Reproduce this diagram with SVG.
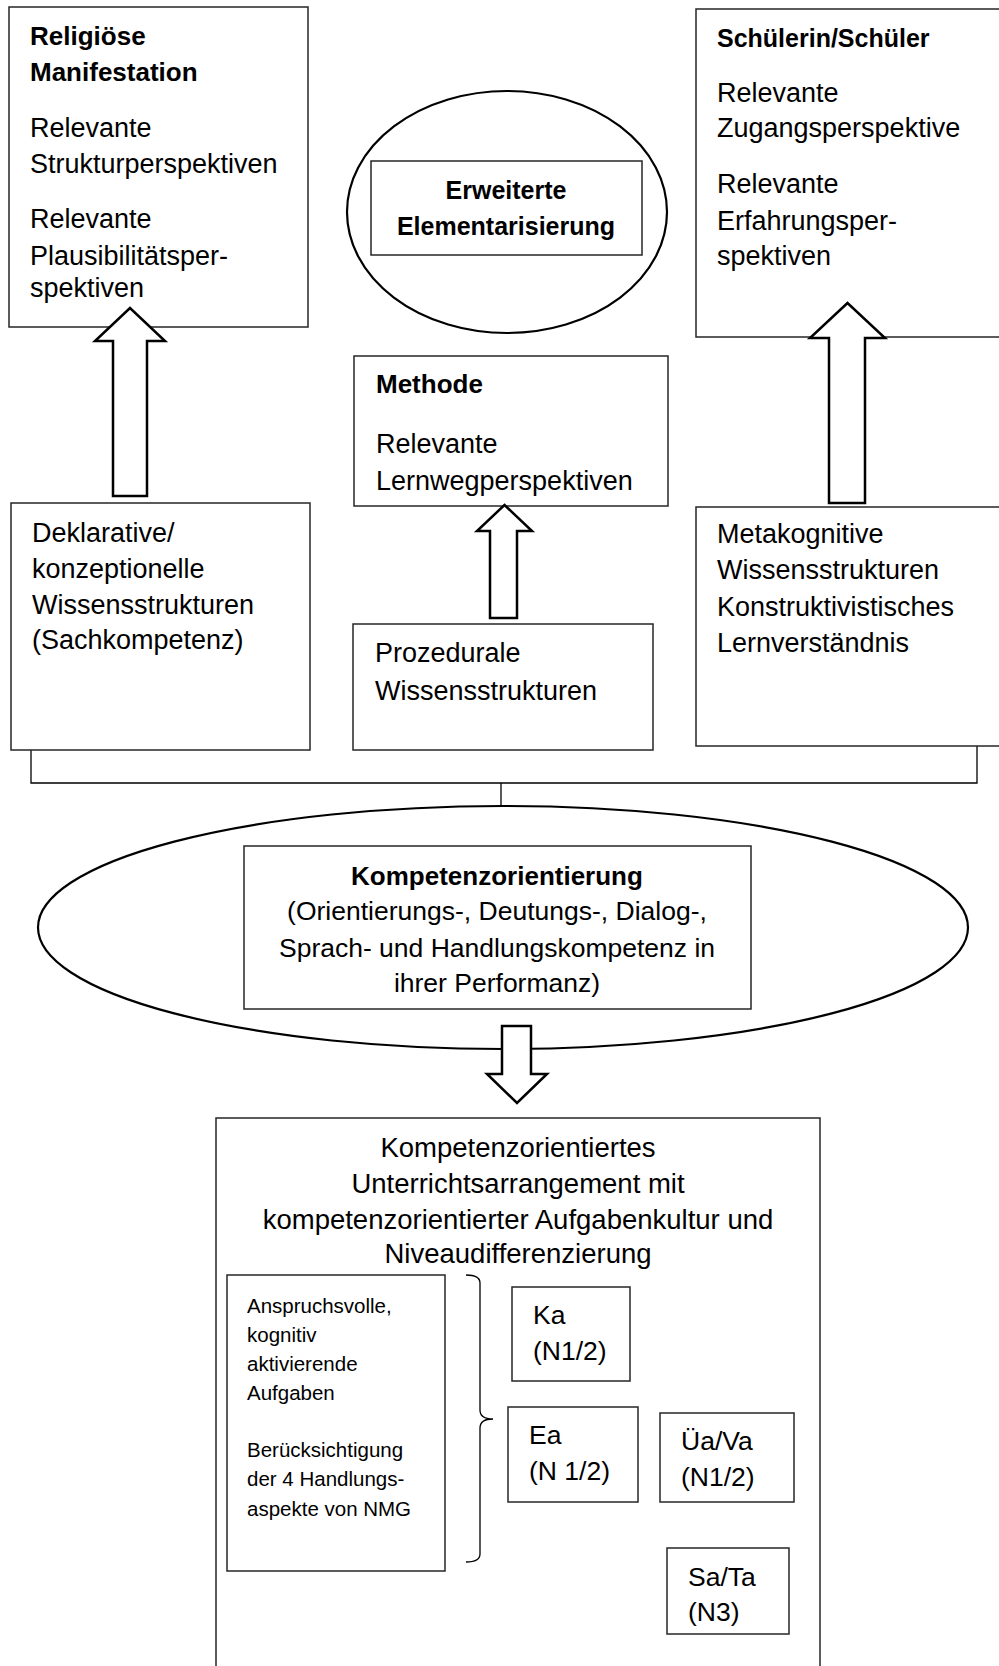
<svg xmlns="http://www.w3.org/2000/svg" width="999" height="1666" viewBox="0 0 999 1666">
<style>
.box{fill:#fff;stroke:#262626;stroke-width:1.5}
.ell{fill:#fff;stroke:#000;stroke-width:2.2}
.arr{fill:#fff;stroke:#000;stroke-width:2.5;stroke-linejoin:miter}
.con{fill:none;stroke:#000;stroke-width:1.3}
text{font-family:"Liberation Sans",Arial,sans-serif;font-size:27px;fill:#000}
.b{font-weight:bold;font-size:26px}
.c{text-anchor:middle}
.s{font-size:20.5px}
.t{font-size:27.5px}
.n{font-size:26.5px}
</style>
<rect width="999" height="1666" fill="#fff"/>
<g id="connectors">
<polyline class="con" points="31,750 31,783 977,783 977,746"/>
<line class="con" x1="501" y1="783" x2="501" y2="807"/>
</g>
<g id="religioese">
<rect class="box" x="9" y="7" width="299" height="320"/>
<text class="b" x="30" y="45">Religiöse</text>
<text class="b" x="30" y="81">Manifestation</text>
<text x="30" y="137">Relevante</text>
<text x="30" y="173">Strukturperspektiven</text>
<text x="30" y="228">Relevante</text>
<text x="30" y="265">Plausibilitätsper-</text>
<text x="30" y="297">spektiven</text>
</g>
<g id="elementarisierung">
<ellipse class="ell" cx="507" cy="212" rx="160" ry="121"/>
<rect class="box" x="371" y="161" width="271" height="94"/>
<text class="b c" x="506" y="199" style="font-size:25px">Erweiterte</text>
<text class="b c" x="506" y="235" style="font-size:25px">Elementarisierung</text>
</g>
<g id="schueler">
<rect class="box" x="696" y="9" width="320" height="328"/>
<text class="b" x="717" y="47" style="font-size:25px">Schülerin/Schüler</text>
<text x="717" y="102">Relevante</text>
<text x="717" y="137">Zugangsperspektive</text>
<text x="717" y="193">Relevante</text>
<text x="717" y="230">Erfahrungsper-</text>
<text x="717" y="265">spektiven</text>
</g>
<g id="methode">
<rect class="box" x="354" y="356" width="314" height="150"/>
<text class="b" x="376" y="393">Methode</text>
<text x="376" y="453">Relevante</text>
<text x="376" y="490">Lernwegperspektiven</text>
</g>
<g id="deklarativ">
<rect class="box" x="11" y="503" width="299" height="247"/>
<text x="32" y="542">Deklarative/</text>
<text x="32" y="578">konzeptionelle</text>
<text x="32" y="614">Wissensstrukturen</text>
<text x="32" y="649">(Sachkompetenz)</text>
</g>
<g id="prozedural">
<rect class="box" x="353" y="624" width="300" height="126"/>
<text x="375" y="662">Prozedurale</text>
<text x="375" y="700">Wissensstrukturen</text>
</g>
<g id="metakognitiv">
<rect class="box" x="696" y="507" width="320" height="239"/>
<text x="717" y="543">Metakognitive</text>
<text x="717" y="579">Wissensstrukturen</text>
<text x="717" y="616">Konstruktivistisches</text>
<text x="717" y="652">Lernverständnis</text>
</g>
<g id="arrows">
<polygon class="arr" points="113,496 147,496 147,341 165,341 130,308 95,341 113,341"/>
<polygon class="arr" points="490,618 517,618 517,531 532,531 504.5,505 477,531 490,531"/>
<polygon class="arr" points="829,503 865,503 865,338 885,338 847.5,303 810,338 829,338"/>
</g>
<g id="kompetenzorientierung">
<ellipse class="ell" cx="503" cy="927.5" rx="465" ry="121.5"/>
<rect class="box" x="244" y="846" width="507" height="163"/>
<text class="b c" x="497" y="885">Kompetenzorientierung</text>
<text class="c n" x="497" y="920">(Orientierungs-, Deutungs-, Dialog-,</text>
<text class="c n" x="497" y="957">Sprach- und Handlungskompetenz in</text>
<text class="c n" x="497" y="992">ihrer Performanz)</text>
</g>
<g id="arrow-down">
<polygon class="arr" points="502,1026 531,1026 531,1074 547,1074 517,1103 487,1074 502,1074"/>
</g>
<g id="unterricht">
<rect class="box" x="216" y="1118" width="604" height="600"/>
<text class="c t" x="518" y="1157">Kompetenzorientiertes</text>
<text class="c t" x="518" y="1193">Unterrichtsarrangement mit</text>
<text class="c t" x="518" y="1229">kompetenzorientierter Aufgabenkultur und</text>
<text class="c t" x="518" y="1263">Niveaudifferenzierung</text>
</g>
<g id="aufgaben">
<rect class="box" x="227" y="1275" width="218" height="296"/>
<text class="s" x="247" y="1313">Anspruchsvolle,</text>
<text class="s" x="247" y="1342">kognitiv</text>
<text class="s" x="247" y="1371">aktivierende</text>
<text class="s" x="247" y="1400">Aufgaben</text>
<text class="s" x="247" y="1457">Berücksichtigung</text>
<text class="s" x="247" y="1486">der 4 Handlungs-</text>
<text class="s" x="247" y="1516">aspekte von NMG</text>
</g>
<g id="brace">
<path class="con" d="M466,1275 Q480,1275 480,1283 L480,1410 Q480,1419 493,1419 Q480,1419 480,1428 L480,1554 Q480,1562 466,1562"/>
</g>
<g id="ka">
<rect class="box" x="512" y="1287" width="118" height="94"/>
<text class="n" x="533" y="1324">Ka</text>
<text class="n" x="533" y="1360">(N1/2)</text>
</g>
<g id="ea">
<rect class="box" x="508" y="1407" width="130" height="95"/>
<text class="n" x="529" y="1444">Ea</text>
<text class="n" x="529" y="1480">(N 1/2)</text>
</g>
<g id="uea">
<rect class="box" x="660" y="1413" width="134" height="89"/>
<text class="n" x="681" y="1450">Üa/Va</text>
<text class="n" x="681" y="1486">(N1/2)</text>
</g>
<g id="sa">
<rect class="box" x="667" y="1548" width="122" height="86"/>
<text class="n" x="688" y="1586">Sa/Ta</text>
<text class="n" x="688" y="1621">(N3)</text>
</g>
</svg>
